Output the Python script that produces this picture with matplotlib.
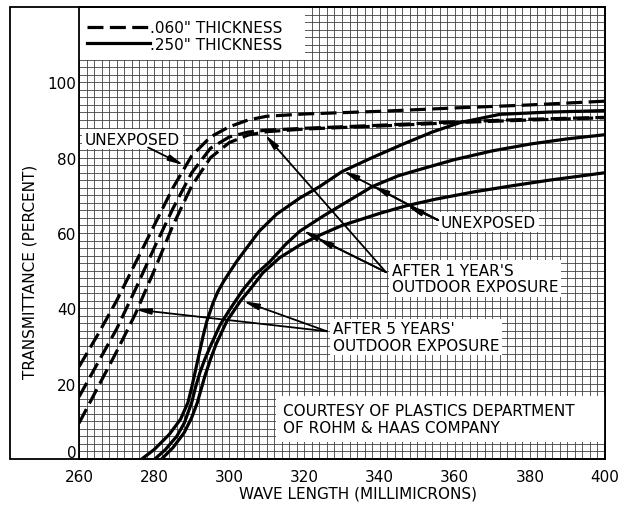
import matplotlib
matplotlib.use("Agg")
import matplotlib.pyplot as plt
import numpy as np
from matplotlib.patches import Rectangle
from matplotlib.lines import Line2D
from matplotlib.transforms import ScaledTranslation

plt.rcParams["font.family"] = ["DejaVu Sans"]

# --- transmittance curves (wave length in millimicrons, transmittance in percent) ---
# .060" thickness
wl_thin_unexposed = [260, 265, 270, 275, 280, 285, 290, 295, 300, 305, 310, 320, 340, 360, 380, 400]
tr_thin_unexposed = [24.5, 33, 42, 52, 62, 72, 80.5, 85.5, 88.2, 90, 91, 91.6, 92.3, 93.2, 94, 95]

wl_thin_1yr = [260, 265, 270, 275, 280, 285, 290, 295, 300, 305, 310, 320, 340, 360, 380, 400]
tr_thin_1yr = [16.5, 25.5, 34.5, 45, 56, 66.5, 76, 82.5, 85.5, 86.8, 87.3, 87.8, 88.6, 89.5, 90.2, 90.7]

wl_thin_5yr = [260, 265, 270, 275, 280, 285, 290, 295, 300, 305, 310, 320, 340, 360, 380, 400]
tr_thin_5yr = [9.5, 19, 28.5, 38.5, 50, 62, 72.5, 80, 84, 86, 86.9, 87.6, 88.4, 89.3, 90.0, 90.6]

# .250" thickness
wl_thick_unexposed = [276.7, 280, 284, 287, 289, 290, 291, 292, 293, 294, 295.7, 297, 298.4, 300,
                      302, 304.6, 308, 312.6, 318.8, 324, 330, 338, 346, 354, 361.4, 372, 385, 400]
tr_thick_unexposed = [0, 2.5, 6.5, 10.5, 15, 19, 23.5, 28, 32.5, 36.5, 41.5, 44.5, 47, 49.5,
                      52.5, 56, 60.5, 65, 69.3, 72.3, 76.3, 80, 83.5, 86.8, 89.3, 91.5, 92.1, 92.5]

wl_thick_1yr = [280.2, 283, 286, 288, 290, 291, 292.2, 293.5, 295, 297.5, 300, 303.7, 307, 310.8,
                315, 318.8, 325, 330, 338, 345, 350.8, 360, 370, 380, 390, 400]
tr_thick_1yr = [0, 2.5, 6, 9.5, 15, 19, 23, 26.5, 30, 35.5, 39.5, 45, 49, 52.4,
                57, 60.5, 64.5, 67.5, 72.3, 75.2, 76.9, 79.5, 81.8, 83.6, 85, 86.1]

wl_thick_5yr = [282, 285, 288, 290, 291.5, 292.5, 293.5, 295, 296.5, 299.3, 303, 305.5, 309,
                313.5, 318.8, 324, 330, 340, 347, 355, 365, 375, 385, 400]
tr_thick_5yr = [0, 3, 7, 11, 15, 18.5, 22, 26.5, 30.5, 36.5, 42, 45, 49.5,
                53.5, 56.8, 59.4, 62, 65.2, 67.2, 69, 70.9, 72.5, 74, 76]

x_ticks = [260, 280, 300, 320, 340, 360, 380, 400]
y_ticks = [0, 20, 40, 60, 80, 100]

FS = 11
DASH = (0, (5, 2))
LW = 2.3

fig = plt.figure(figsize=(6.26, 5.10), dpi=100)
ax = fig.add_axes([79 / 626, 1 - 460 / 510, 526 / 626, 452 / 510])
ax.set_xlim(260, 400)
ax.set_ylim(0, 120)
ax.set_axisbelow(True)

# graph-paper grid, 2 units per square
ax.set_xticks(x_ticks)
ax.set_yticks(y_ticks)
ax.set_xticks(np.arange(260, 401, 2), minor=True)
ax.set_yticks(np.arange(0, 121, 2), minor=True)
ax.grid(which="both", color="#404040", lw=0.6)
ax.tick_params(which="both", length=0)
ax.tick_params(axis="x", pad=7, labelsize=FS)
ax.tick_params(axis="y", pad=2, labelsize=FS)
for sp in ax.spines.values():
    sp.set_linewidth(1.3)

# lift the "0" label off the bottom edge
lbl0 = ax.get_yticklabels()[0]
lbl0.set_transform(lbl0.get_transform() + ScaledTranslation(0, 0.08, fig.dpi_scale_trans))

# curves
for wl, tr in [(wl_thin_unexposed, tr_thin_unexposed), (wl_thin_1yr, tr_thin_1yr),
               (wl_thin_5yr, tr_thin_5yr)]:
    ax.plot(wl, tr, color="black", lw=LW, ls=DASH, dash_capstyle="butt", zorder=3)
for wl, tr in [(wl_thick_unexposed, tr_thick_unexposed), (wl_thick_1yr, tr_thick_1yr),
               (wl_thick_5yr, tr_thick_5yr)]:
    ax.plot(wl, tr, color="black", lw=LW, solid_capstyle="round", solid_joinstyle="round",
            zorder=3)

# legend panel in the upper-left corner
ax.add_patch(Rectangle((260, 105.9), 60.2, 14.1, fc="white", ec="none", zorder=2))
handles = [Line2D([], [], color="black", lw=LW, ls=DASH, dash_capstyle="butt"),
           Line2D([], [], color="black", lw=LW)]
leg = ax.legend(handles, ['.060" THICKNESS', '.250" THICKNESS'], loc="upper left",
                bbox_to_anchor=(8 / 526, 1 - 13 / 452), frameon=False, fontsize=FS,
                handlelength=4.1, handletextpad=0.05, borderpad=0, borderaxespad=0,
                labelspacing=0.12)
leg.set_zorder(6)

box = dict(boxstyle="square,pad=0.18", fc="white", ec="none")
arrow = dict(arrowstyle="-|>,head_length=0.9,head_width=0.18", color="black", lw=1.3,
             shrinkA=0, shrinkB=0)

# labels with leader arrows
ax.text(261.6, 84.9, "UNEXPOSED", fontsize=FS, ha="left", va="center", bbox=box, zorder=5)
ax.annotate("", xy=(287.9, 78.0), xytext=(278.4, 82.7), arrowprops=arrow, zorder=5)

ax.text(356.3, 62.9, "UNEXPOSED", fontsize=FS, ha="left", va="center", bbox=box, zorder=5)
for tip in [(330.3, 76.5), (338.3, 72.5), (347.3, 67.2)]:
    ax.annotate("", xy=tip, xytext=(355.6, 63.4), arrowprops=arrow, zorder=5)

ax.text(343.3, 48.0, "AFTER 1 YEAR'S\nOUTDOOR EXPOSURE", fontsize=FS, ha="left", va="center",
        linespacing=1.1, bbox=box, zorder=5)
for tip in [(309.5, 86.1), (319.6, 60.6), (323.3, 58.6)]:
    ax.annotate("", xy=tip, xytext=(341.7, 49.6), arrowprops=arrow, zorder=5)

ax.text(327.6, 32.4, "AFTER 5 YEARS'\nOUTDOOR EXPOSURE", fontsize=FS, ha="left", va="center",
        linespacing=1.1, bbox=box, zorder=5)
for tip in [(274.9, 39.7), (303.7, 41.9)]:
    ax.annotate("", xy=tip, xytext=(326.0, 33.9), arrowprops=arrow, zorder=5)

ax.add_patch(Rectangle((312.4, 4.5), 87.6, 12.3, fc="white", ec="none", zorder=4))
ax.text(314.4, 10.6, "COURTESY OF PLASTICS DEPARTMENT\nOF ROHM & HAAS COMPANY", fontsize=FS,
        ha="left", va="center", linespacing=1.2, zorder=5)

# axis titles
fig.text(30 / 626, 1 - 272 / 510, "TRANSMITTANCE (PERCENT)", rotation=90, ha="center",
         va="center", fontsize=FS)
fig.text(358 / 626, 1 - 494 / 510, "WAVE LENGTH (MILLIMICRONS)", ha="center", va="center",
         fontsize=FS)

# outer border enclosing the value scale
fig.add_artist(Rectangle((10 / 626, 1 - 460 / 510), (605 - 10) / 626, (460 - 8) / 510,
                         transform=fig.transFigure, fill=False, lw=1.3, ec="black"))

fig.savefig("out.png", dpi=100, facecolor="white")
